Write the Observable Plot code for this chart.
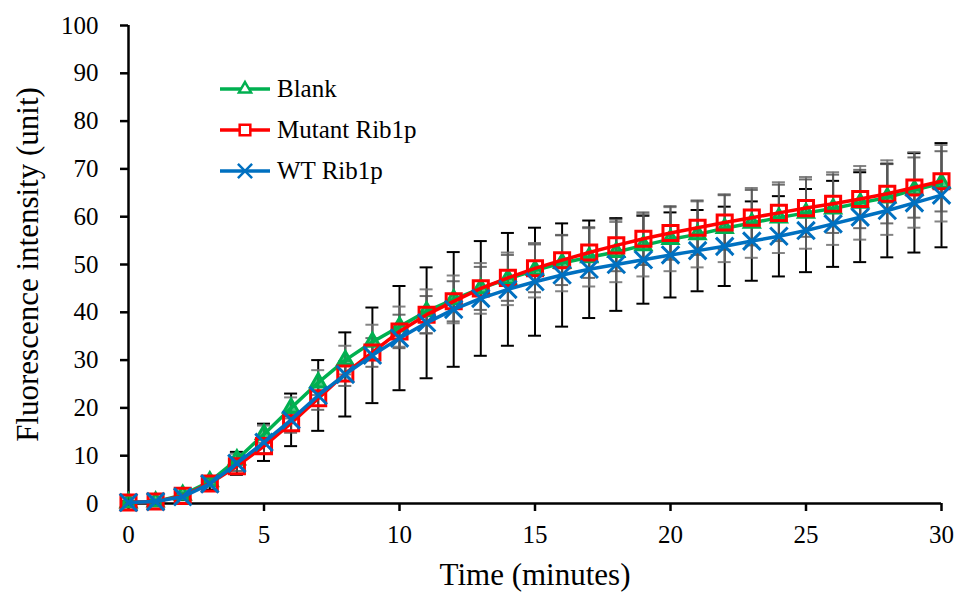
<!DOCTYPE html>
<html><head><meta charset="utf-8">
<script src="https://cdn.jsdelivr.net/npm/d3@7"></script>
<script src="https://cdn.jsdelivr.net/npm/@observablehq/plot@0.6"></script>
<style>
html,body{margin:0;padding:0;background:#fff;}
#wrap{position:relative;width:957px;height:592px;}
#legend{position:absolute;left:218px;top:68px;font-family:'Liberation Serif';font-size:25px;color:#000;}
.row{display:flex;align-items:center;height:41px;white-space:nowrap;}
.row svg{margin-right:5px;overflow:visible;}
</style></head><body>
<div id="wrap"><div id="legend"></div></div>
<script>
const FONT = "Liberation Serif";
const minutes = d3.range(0, 31);
const seriesNames = ["Blank", "Mutant Rib1p", "WT Rib1p"];
const blank = [0.2,0.4,1.8,4.6,9.2,14.5,20,25.3,30,33.8,37,40.2,42.7,45,47,48.8,50.3,51.5,52.6,54,55.3,56.3,57.6,58.7,59.8,60.8,61.7,62.9,64,65.6,67];
const blankErr = [0.3,0.3,0.5,0.8,1.2,1.8,2.2,2.6,3,3.6,4.2,4.6,5,5.3,5.5,5.7,5.9,6.1,6.3,6.5,6.7,6.9,7.1,7.3,7.4,7.5,7.6,7.7,7.8,7.9,8];
const mutant = [0.2,0.4,1.6,4.2,7.8,12,16.8,22,27.2,31.6,36,39.5,42.3,45,47.2,49.2,50.9,52.5,54,55.4,56.6,57.7,58.8,59.8,60.8,61.8,62.7,63.7,64.8,66.1,67.4];
const mutantErr = [0.3,0.3,0.4,0.6,1,1.5,2,2.4,2.6,3,3.5,3.9,4.2,4.5,4.8,5,5.2,5.3,5.4,5.5,5.6,5.7,5.7,5.8,5.9,6,6.1,6.1,6.2,6.3,6.3];
const wt = [0.2,0.4,1.4,4.1,8.4,12.8,17.5,22.6,27,31,34.6,37.8,40.6,42.9,44.8,46.4,47.8,49,50,51,52,52.9,53.8,54.9,55.9,57.1,58.5,59.9,61.3,62.9,64.5];
const wtErr = [0.3,0.4,0.7,1.2,2.4,3.9,5.5,7.4,8.8,10,10.9,11.6,12,12,11.8,11.3,10.8,10.2,9.7,9.2,8.9,8.5,8.3,8.3,8.4,8.7,9,9.4,9.8,10.4,10.9];
const xTicks = [0,5,10,15,20,25,30];
const yTicks = [0,10,20,30,40,50,60,70,80,90,100];

const colors = ["#00B050", "#FF0000", "#0070C0"];
const symbols = ["triangle", "square", "times"];
const radii = [5.6, 8.5, 8];
const fills = ["#00B050", "none", "none"];
const errColors = ["#6e6e6e", "#555555", "#000000"];
const vals = [blank, mutant, wt];
const errs = [blankErr, mutantErr, wtErr];

const rows = seriesNames.map((name, s) => minutes.map((t, i) => ({
  name, t, v: vals[s][i], lo: vals[s][i] - errs[s][i], hi: vals[s][i] + errs[s][i]
})));

const errMarks = [];
[2, 0, 1].forEach(s => {
  const c = errColors[s], op = s === 2 ? 1 : 0.85;
  errMarks.push(
    Plot.ruleX(rows[s], {x: "t", y1: "lo", y2: "hi", stroke: c, strokeWidth: 2, strokeOpacity: op}),
    Plot.ruleY(rows[s], {y: "hi", x1: "t", x2: "t", insetLeft: -6.5, insetRight: -6.5, stroke: c, strokeWidth: 2, strokeOpacity: op}),
    Plot.ruleY(rows[s], {y: "lo", x1: "t", x2: "t", insetLeft: -6.5, insetRight: -6.5, stroke: c, strokeWidth: 2, strokeOpacity: op})
  );
});

const seriesMarks = [];
[0, 1, 2].forEach(s => {
  seriesMarks.push(
    Plot.line(rows[s], {x: "t", y: "v", stroke: colors[s], strokeWidth: 3.5}),
    Plot.dot(rows[s], {x: "t", y: "v", symbol: () => symbols[s], r: radii[s], stroke: colors[s], strokeWidth: 3, fill: fills[s], fillOpacity: 0.7})
  );
});

const chart = Plot.plot({
  width: 957,
  height: 592,
  marginLeft: 128,
  marginRight: 16,
  marginTop: 25,
  marginBottom: 89,
  style: {fontFamily: FONT, background: "#fff", color: "#000"},
  x: {domain: [0, 30]},
  y: {domain: [0, 100]},
  symbol: {type: "identity"},
  marks: [
    Plot.axisY({ticks: yTicks, tickSize: 8, tickPadding: 22, fontSize: 25, fontFamily: FONT, strokeWidth: 2.5, label: null, tickFormat: d => String(d)}),
    Plot.axisX({ticks: xTicks, tickSize: 8, tickPadding: 14, fontSize: 25, fontFamily: FONT, strokeWidth: 2.5, label: null, tickFormat: d => String(d)}),
    Plot.text(["Fluorescence intensity (unit)"], {frameAnchor: "left", rotate: -90, dx: -100, fontSize: 31, fontFamily: FONT, textAnchor: "middle", lineAnchor: "middle"}),
    Plot.text(["Time (minutes)"], {frameAnchor: "bottom", dy: 72, fontSize: 31, fontFamily: FONT, textAnchor: "middle", lineAnchor: "middle"}),
    ...errMarks,
    Plot.ruleX([0], {y1: 0, y2: 100, strokeWidth: 2.5}),
    Plot.ruleY([0], {x1: 0, x2: 30, strokeWidth: 2.5}),
    ...seriesMarks
  ]
});
document.getElementById("wrap").prepend(chart);

// legend
const legend = d3.select("#legend");
seriesNames.forEach((name, s) => {
  const row = legend.append("div").attr("class", "row");
  const svg = row.append("svg").attr("width", 54).attr("height", 24);
  svg.append("line").attr("x1", 2).attr("x2", 52).attr("y1", 12).attr("y2", 12)
    .attr("stroke", colors[s]).attr("stroke-width", 3.5);
  const typ = [d3.symbolTriangle, d3.symbolSquare, d3.symbolTimes][s];
  const r = [4.5, 6, 6.5][s];
  svg.append("path").attr("transform", "translate(27,12)")
    .attr("d", d3.symbol(typ, Math.PI * r * r)())
    .attr("fill", s === 2 ? "none" : "#fff").attr("stroke", colors[s]).attr("stroke-width", 2.5);
  row.append("span").text(name);
});
</script>
</body></html>
